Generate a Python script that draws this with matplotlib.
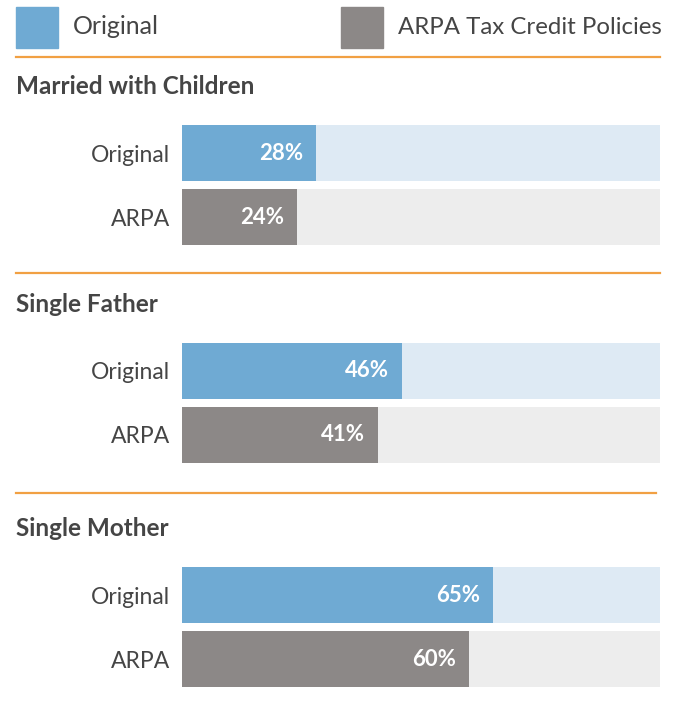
import matplotlib.pyplot as plt
from matplotlib.patches import Rectangle
from matplotlib.lines import Line2D

plt.rcParams['font.family'] = ['Lato', 'DejaVu Sans']

# groups and shares of each household type
groups = ["Married with Children", "Single Father", "Single Mother"]
rows = ["Original", "ARPA"]
original_pct = [28, 46, 65]
arpa_pct = [24, 41, 60]
legend_labels = ["Original", "ARPA Tax Credit Policies"]

BLUE = "#6FAAD3"
BLUE_BG = "#DEEAF4"
GREY = "#8C8887"
GREY_BG = "#EDEDED"
ORANGE = "#F1A043"
TEXT = "#454545"

W, H = 673, 713
fig = plt.figure(figsize=(W / 100, H / 100), dpi=100)


def fx(px):
    return px / W


def fy(py):
    return 1 - py / H


# legend on top
for x0, color, label, size in [(16, BLUE, legend_labels[0], 18),
                               (341, GREY, legend_labels[1], 17.3)]:
    fig.patches.append(Rectangle((fx(x0), fy(48)), 42 / W, 41 / H,
                                 transform=fig.transFigure, color=color))
    fig.text(fx(x0 + 57), fy(27), label, fontsize=size, color=TEXT, va="center")

# layout of each block (pixel rows)
rule_y = [57, 273, 493]
rule_x1 = [660, 660, 656]
title_y = [87, 305, 528]
bar_top = [125, 343, 567]

bar_h = 56
gap = 8
pitch = bar_h + gap
h = bar_h / pitch

for i, g in enumerate(groups):
    fig.add_artist(Line2D([fx(16), fx(rule_x1[i])], [fy(rule_y[i])] * 2,
                          transform=fig.transFigure, color=ORANGE, lw=1.6))
    fig.text(fx(16), fy(title_y[i]), g, fontsize=17.5, fontweight="bold",
             color=TEXT, va="center")

    top = bar_top[i]
    bottom = top + bar_h * 2 + gap
    ax = fig.add_axes([fx(182), fy(bottom), (660 - 182) / W, (bottom - top) / H])
    vals = [original_pct[i], arpa_pct[i]]
    ax.barh([0, 1], [100, 100], height=h, color=[BLUE_BG, GREY_BG], linewidth=0)
    ax.barh([0, 1], vals, height=h, color=[BLUE, GREY], linewidth=0)
    for y, v in zip([0, 1], vals):
        ax.annotate(f"{v}%", xy=(v, y), xytext=(-13, 0), textcoords="offset pixels",
                    ha="right", va="center", color="white", fontsize=16,
                    fontweight="bold")
    ax.set_xlim(0, 100)
    ax.set_ylim(1 + h / 2, -h / 2)
    ax.set_yticks([0, 1], rows)
    ax.tick_params(axis="y", length=0, pad=8.6, labelsize=16.5, labelcolor=TEXT)
    ax.set_xticks([])
    for s in ax.spines.values():
        s.set_visible(False)

fig.savefig("out.png", dpi=100, facecolor="white")
